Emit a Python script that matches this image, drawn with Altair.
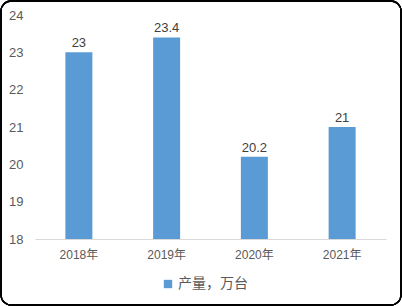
import altair as alt
import pandas as pd

years = ["2018年", "2019年", "2020年", "2021年"]
values = [23, 23.4, 20.2, 21]
labels = ["23", "23.4", "20.2", "21"]
ticks = [18, 19, 20, 21, 22, 23, 24]
series = "产量，万台"

df = pd.DataFrame({"year": years, "value": values, "label": labels, "series": [series] * 4})

FONT = "Liberation Sans, Noto Sans CJK SC, sans-serif"
W, H = 351, 224
PL, PT, PR, PB = 35, 15, 16, 67

base = alt.Chart(df)

x = alt.X("year:N", sort=years, title=None,
          scale=alt.Scale(paddingInner=0.69, paddingOuter=0.345),
          axis=alt.Axis(labelAngle=0, domainColor="#d9d9d9", ticks=False,
                        labelColor="#595959", labelFontSize=12, labelPadding=10,
                        labelFont=FONT))
y = alt.Y("value:Q", title=None,
          scale=alt.Scale(domain=[18, 24], zero=False, nice=False),
          axis=alt.Axis(values=ticks, tickCount=7, grid=False, domain=False,
                        ticks=False, labelColor="#595959", labelFontSize=13,
                        labelPadding=12, labelFont=FONT, labelOverlap=False,
                        labelBound=False, labelFlush=False))

bars = base.mark_bar(size=27).encode(
    x=x, y=y, y2=alt.datum(18),
    color=alt.Color("series:N", scale=alt.Scale(range=["#5B9BD5"]), title=None,
                    legend=alt.Legend(orient="none", legendX=126, legendY=262,
                                      symbolType="square", symbolSize=70,
                                      labelFontSize=14, labelColor="#595959",
                                      labelOffset=3,
                                      labelFont=FONT, symbolStrokeWidth=0)),
)

text = base.mark_text(dy=-9, fontSize=13, color="#404040", font=FONT).encode(
    x=x, y=y, text="label:N")

border = base.mark_rect(filled=False, stroke="#000000", strokeWidth=1.3,
                        cornerRadius=10).encode(
    x=alt.value(-PL + 1), x2=alt.value(W + PR - 1),
    y=alt.value(-PT + 1), y2=alt.value(H + PB - 1))

chart = alt.layer(bars, text, border).properties(
    width=W, height=H,
    autosize=alt.AutoSizeParams(type="none"),
    padding={"left": PL, "top": PT, "right": PR, "bottom": PB},
    background="white",
).configure_view(stroke=None)

chart.save("out.html", embed_options={"renderer": "svg", "actions": False})
